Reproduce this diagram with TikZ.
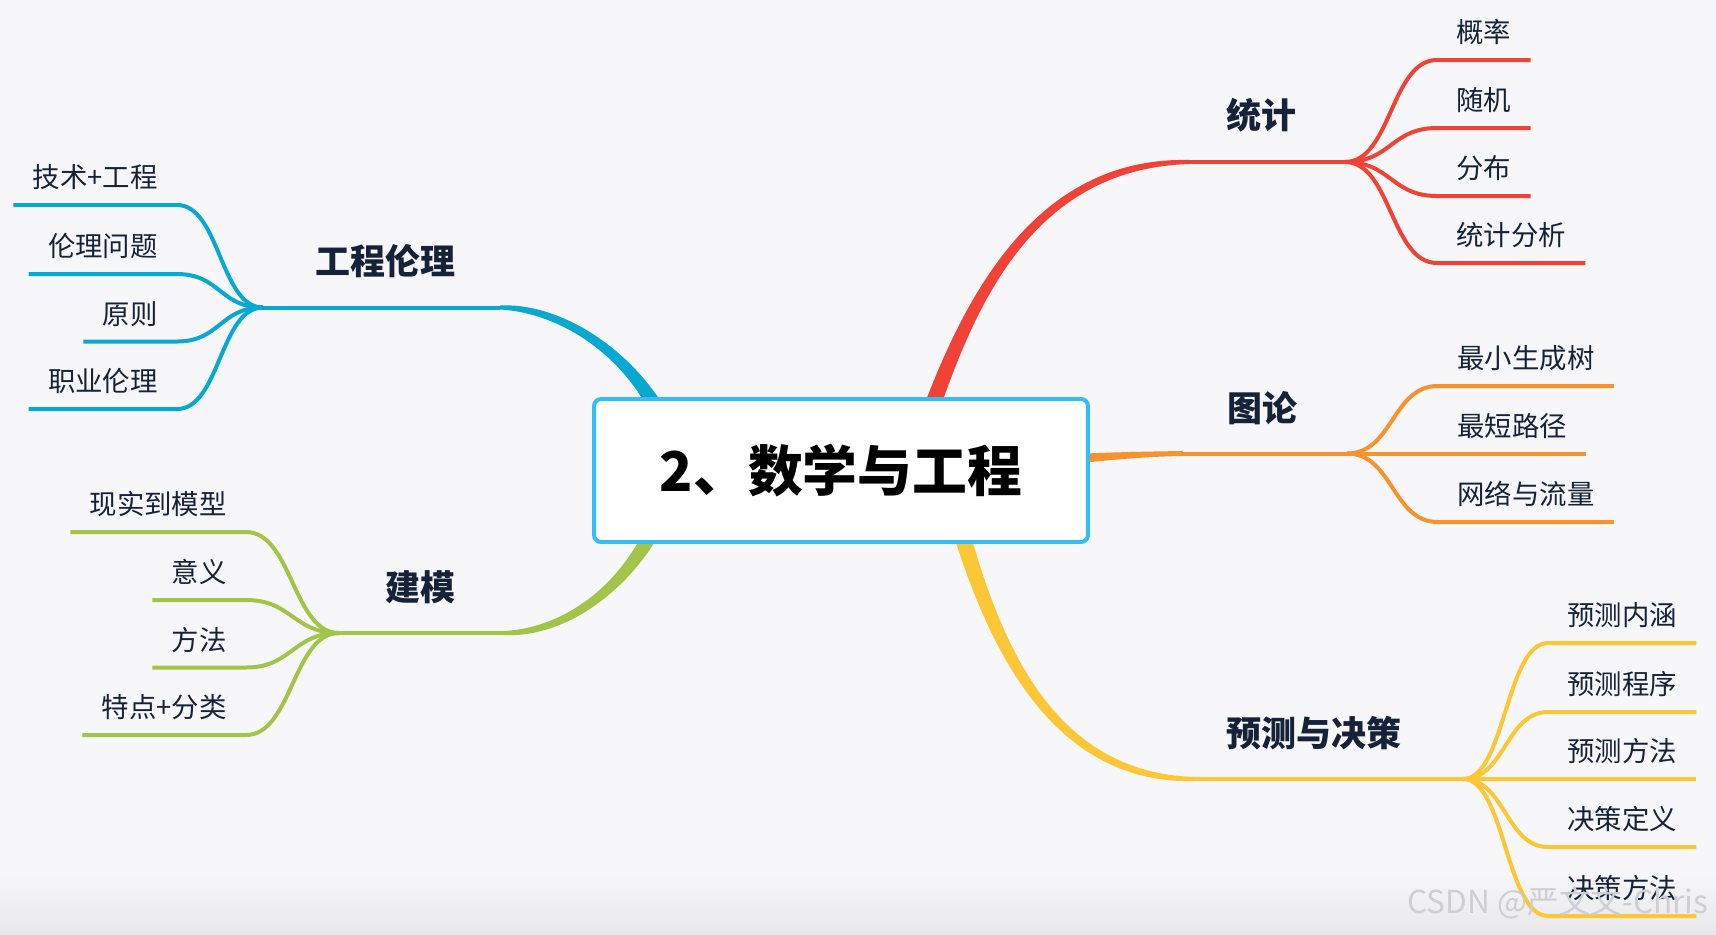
\documentclass[tikz,border=0pt]{standalone}
\usepackage{fontspec}
\setmainfont{Noto Sans CJK SC}
\usetikzlibrary{positioning,calc}
\definecolor{bgpaper}{HTML}{F7F7F9}
\definecolor{bgshade}{HTML}{E8E8EB}
\definecolor{boxblue}{HTML}{33BEF7}
\definecolor{ink}{HTML}{162238}
\definecolor{ethblue}{HTML}{08A8D0}
\definecolor{statred}{HTML}{F04237}
\definecolor{graphorange}{HTML}{F7932E}
\definecolor{predyellow}{HTML}{FCC736}
\definecolor{modgreen}{HTML}{A2C449}
\definecolor{markgray}{HTML}{CFCFD3}

\begin{document}
\begin{tikzpicture}[x=0.02cm,y=-0.02cm,
 rootbox/.style={draw=boxblue,line width=0.08cm,fill=white,rounded corners=0.14cm,
   minimum width=9.88cm,minimum height=2.86cm,font=\fontsize{31.2}{34}\selectfont\bfseries,text=black},
 topic/.style={font=\fontsize{19.9}{22}\selectfont\bfseries,text=ink,inner sep=0pt},
 leaf/.style={font=\fontsize{15.6}{18}\selectfont,text=ink,inner xsep=0.38cm,inner ysep=0pt,
   text height=0.5cm,text depth=0.34cm},
 twig/.style={line width=0.08cm}]
\useasboundingbox (0,0) rectangle (1716,934);
\fill[bgpaper] (0,0) rectangle (1716,934);
\shade[top color=bgpaper,bottom color=bgshade] (0,872) rectangle (1716,934);

% main branches, thick at the box
\coordinate (ethknee) at (500,307.5);   \coordinate (ethhub) at (263,307.5);
\coordinate (modknee) at (504,633);     \coordinate (modhub) at (339,633);
\coordinate (statknee) at (1190,162);   \coordinate (stathub) at (1345,162);
\coordinate (graphknee) at (1183,453.5);\coordinate (graphhub) at (1347,453.5);
\coordinate (predknee) at (1195,779);   \coordinate (predhub) at (1463,779);

\fill[ethblue] (500,305.5) .. controls (555,302.5) and (623,342) .. (662.5,404)
  -- (645.5,404) .. controls (613,348) and (555,312.5) .. (500,309.5) -- cycle;
\fill[modgreen] (504,635) .. controls (559,638) and (621,599) .. (658.5,536)
  -- (641.5,536) .. controls (611,593) and (559,628) .. (504,631) -- cycle;
\fill[statred] (924.5,404) .. controls (969,288) and (1040,156) .. (1190,160)
  -- (1190,164) .. controls (1040,168) and (981,292) .. (941.5,404) -- cycle;
\fill[graphorange] (1086,453.5) .. controls (1120,452) and (1150,451.5) .. (1183,451)
  -- (1183,456) .. controls (1150,456.5) and (1120,459) .. (1086,462.5) -- cycle;
\fill[predyellow] (954.5,538) .. controls (994,663) and (1060,785) .. (1195,781)
  -- (1195,777) .. controls (1060,773) and (1006,657) .. (971.5,538) -- cycle;

\draw[twig,ethblue] (ethknee) -- (ethhub);
\draw[twig,modgreen] (modknee) -- (modhub);
\draw[twig,statred] (statknee) -- (stathub);
\draw[twig,graphorange] (graphknee) -- (graphhub);
\draw[twig,predyellow] (predknee) -- (predhub);

% leaves
\foreach \t/\y [count=\i] in {技术+工程/205,伦理问题/274,原则/341.5,职业伦理/409}{
  \node[leaf,anchor=south east] (eth\i) at (177,\y) {\t};
  \draw[twig,ethblue] (ethhub) .. controls +(-43,0) and +(43,0) .. (eth\i.south east) -- (eth\i.south west);
}
\foreach \t/\y [count=\i] in {现实到模型/532,意义/600,方法/667.5,特点+分类/735}{
  \node[leaf,anchor=south east] (mod\i) at (246,\y) {\t};
  \draw[twig,modgreen] (modhub) .. controls +(-46,0) and +(46,0) .. (mod\i.south east) -- (mod\i.south west);
}
\foreach \t/\y [count=\i] in {概率/60,随机/128,分布/196,统计分析/263}{
  \node[leaf,anchor=south west] (stat\i) at (1437,\y) {\t};
  \draw[twig,statred] (stathub) .. controls +(46,0) and +(-46,0) .. (stat\i.south west) -- (stat\i.south east);
}
\foreach \t/\y [count=\i] in {最小生成树/386,最短路径/453.5,网络与流量/522}{
  \node[leaf,anchor=south west] (graph\i) at (1438,\y) {\t};
  \draw[twig,graphorange] (graphhub) .. controls +(46,0) and +(-46,0) .. (graph\i.south west) -- (graph\i.south east);
}
\foreach \t/\y [count=\i] in {预测内涵/643,预测程序/712,预测方法/779,决策定义/847,决策方法/916}{
  \node[leaf,anchor=south west] (pred\i) at (1548,\y) {\t};
  \draw[twig,predyellow] (predhub) .. controls +(42,0) and +(-42,0) .. (pred\i.south west) -- (pred\i.south east);
}

% centre and topics
\node[rootbox] (core) at (841,470.5) {2、数学与工程};
\node[topic,anchor=east] (ethtopic) at (456,261) {工程伦理};
\node[topic,anchor=east] (modtopic) at (456,587) {建模};
\node[topic,anchor=west] (stattopic) at (1226,115) {统计};
\node[topic,anchor=west] (graphtopic) at (1227,408) {图论};
\node[topic,anchor=west] (predtopic) at (1226,733) {预测与决策};

\node[font=\fontsize{18}{20}\selectfont,text=markgray,inner sep=0pt] (mark) at (1558,903) {CSDN @严文文-Chris};
\end{tikzpicture}
\end{document}
